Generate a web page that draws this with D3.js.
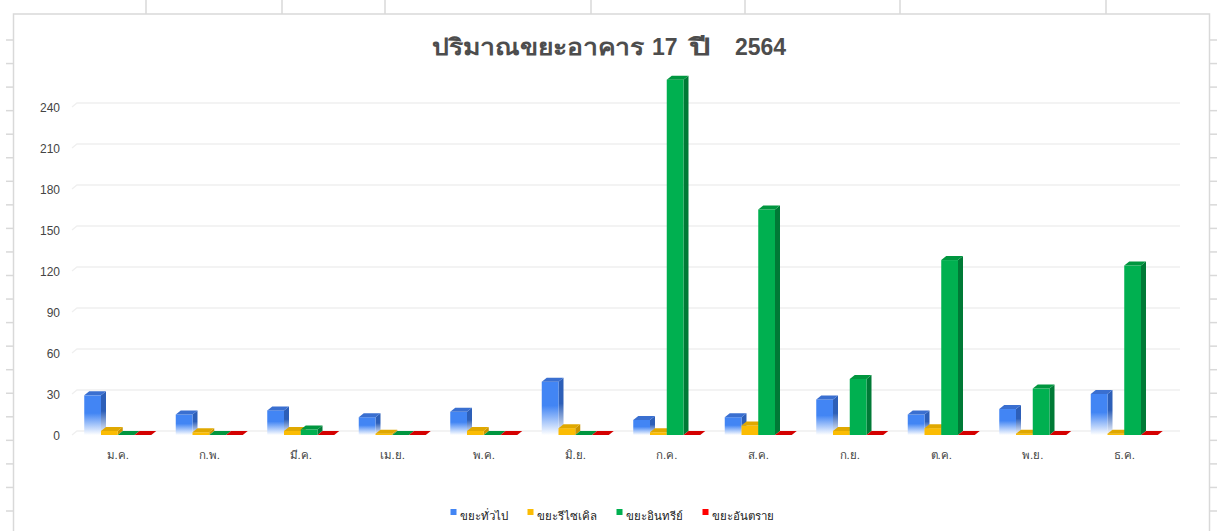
<!DOCTYPE html>
<html>
<head>
<meta charset="utf-8">
<script src="https://cdn.jsdelivr.net/npm/d3@7"></script>
<style>
  body { margin:0; background:#fff; }
  svg  { display:block; font-family: Arial, "Liberation Sans", sans-serif; }
</style>
</head>
<body>
<svg id="chart" width="1217" height="531"></svg>
<script>
//------------------------------------------------------------------------
// Chart data
const months   = ['ม.ค.','ก.พ.','มี.ค.','เม.ย.','พ.ค.','มิ.ย.','ก.ค.','ส.ค.','ก.ย.','ต.ค.','พ.ย.','ธ.ค.'];
const general  = [29, 15, 18, 13, 17, 39, 11, 13, 26, 15, 19, 30];
const recycle  = [3, 2, 3, 1, 3, 5, 2, 7, 3, 5, 1, 1];
const organic  = [0, 0, 4, 0, 0, 0, 260, 165, 41, 128, 34, 124];
const hazard   = [0, 0, 0, 0, 0, 0, 0, 0, 0, 0, 0, 0];
const seriesNames = ['ขยะทั่วไป','ขยะรีไซเคิล','ขยะอินทรีย์','ขยะอันตราย'];
const yTicks   = [0, 30, 60, 90, 120, 150, 180, 210, 240];
// Title pieces : text, left x, forced width (null = natural)
const titleParts = [['ปริมาณขยะอาคาร', 432, 212], ['17', 652, null], ['ปี', 689, 22], ['2564', 735, null]];

// Colours per series : front, side, top
const colors = [
    {front:'#4285f4', side:'#2d5fb8', top:'#3a6fd0'},
    {front:'#fbbc04', side:'#c99400', top:'#e0a800'},
    {front:'#00b050', side:'#007a36', top:'#00963f'},
    {front:'#ff0000', side:'#b00000', top:'#d40000'}
];
const seriesVals = [general, recycle, organic, hazard];

// 3D depth offset of the back plane
const depth = {dx:5, dy:-4};

const svg = d3.select('#chart');

//------------------------------------------------------------------------
// Spreadsheet background : frame, column and row separators
const gridCol = '#d9d9d9';
const colX = [146, 282, 385, 591, 745, 900, 1106];
const rowY = d3.range(40, 531, 23.55);

svg.append('g').selectAll('line').data(colX).enter().append('line')
   .attr('x1', d=>d).attr('x2', d=>d).attr('y1', 0).attr('y2', 14)
   .attr('stroke', gridCol).attr('stroke-width', 1.5);
svg.append('g').selectAll('line').data(rowY).enter().append('line')
   .attr('x1', 6).attr('x2', 14).attr('y1', d=>d).attr('y2', d=>d)
   .attr('stroke', gridCol).attr('stroke-width', 1.5);
svg.append('g').selectAll('line').data(rowY).enter().append('line')
   .attr('x1', 1209).attr('x2', 1217).attr('y1', d=>d).attr('y2', d=>d)
   .attr('stroke', gridCol).attr('stroke-width', 1.5);
svg.append('path')
   .attr('d', 'M13.5,531 V14 H1209.5 V531')
   .attr('fill', 'none').attr('stroke', gridCol).attr('stroke-width', 1.5);

//------------------------------------------------------------------------
// Scales
const xScale = d3.scaleBand().domain(months).range([72, 1170]);
const groupW = 67;
const xInner = d3.scaleBand().domain(d3.range(4)).range([0, groupW]);
const yScale = d3.scaleLinear().domain([0, 270]).range([431, 431 - 270 * 41 / 30]);

// Gridlines on the back plane with a short diagonal at the left
const grid = svg.append('g');
grid.selectAll('path').data(yTicks).enter().append('path')
    .attr('d', d => `M72,${yScale(d) - depth.dy} L77,${yScale(d)} H1180`)
    .attr('fill', 'none').attr('stroke', '#efefef').attr('stroke-width', 1.3);

// Y labels aligned with the front plane
svg.append('g').selectAll('text').data(yTicks).enter().append('text')
   .attr('x', 60).attr('y', d => yScale(d) - depth.dy + 4.5)
   .attr('text-anchor', 'end').attr('font-size', 12).attr('fill', '#444')
   .text(d => d);

//------------------------------------------------------------------------
// Gradient for the blue series (fades to white near the floor)
const defs = svg.append('defs');
[['gFront', colors[0].front], ['gSide', colors[0].side]].forEach(([id, c]) => {
    const g = defs.append('linearGradient').attr('id', id)
                  .attr('x1', 0).attr('x2', 0).attr('y1', 0).attr('y2', 1);
    g.append('stop').attr('offset', '45%').attr('stop-color', c);
    g.append('stop').attr('offset', '100%').attr('stop-color', '#fff');
});

//------------------------------------------------------------------------
// Bars, drawn left to right so each front hides the previous side
const bars = svg.append('g');
months.forEach((m, i) => {
    const gx = xScale(m) + (xScale.bandwidth() - groupW) / 2;
    seriesVals.forEach((vals, s) => {
        const v  = vals[i];
        const w  = xInner.bandwidth();
        const x  = gx + xInner(s);
        const yb = yScale(0) - depth.dy;        // front floor
        const yt = yScale(v) - depth.dy;        // front top
        const c  = colors[s];
        const dx = depth.dx, dy = depth.dy;
        const b  = bars.append('g');
        // side
        b.append('path')
         .attr('d', `M${x+w},${yt} L${x+w+dx},${yt+dy} L${x+w+dx},${yb+dy} L${x+w},${yb} Z`)
         .attr('fill', s === 0 ? 'url(#gSide)' : c.side);
        // front
        b.append('rect')
         .attr('x', x).attr('y', yt).attr('width', w).attr('height', Math.max(0, yb - yt))
         .attr('fill', s === 0 ? 'url(#gFront)' : c.front);
        // top
        b.append('path')
         .attr('d', `M${x},${yt} L${x+dx},${yt+dy} L${x+w+dx},${yt+dy} L${x+w},${yt} Z`)
         .attr('fill', c.top);
    });
});

// X labels
svg.append('g').selectAll('text').data(months).enter().append('text')
   .attr('x', d => xScale(d) + xScale.bandwidth() / 2)
   .attr('y', 459)
   .attr('text-anchor', 'middle').attr('font-size', 11.5).attr('fill', '#444')
   .text(d => d);

// Title, split so the Thai runs match the wider original face
const titleEl = svg.append('text')
   .attr('y', 55)
   .attr('font-size', 23).attr('font-weight', 'bold')
   .attr('fill', '#4d4d4d');
titleParts.forEach(([t, x, len]) => {
    const ts = titleEl.append('tspan').attr('x', x).text(t);
    if (len) ts.attr('textLength', len).attr('lengthAdjust', 'spacingAndGlyphs');
});

//------------------------------------------------------------------------
// Legend, centred under the chart
const legend = svg.append('g');
const items = legend.selectAll('g').data(seriesNames).enter().append('g');
items.append('rect')
     .attr('x', 0).attr('y', -7).attr('width', 6).attr('height', 6)
     .attr('fill', (d, i) => colors[i].front);
items.append('text')
     .attr('x', 9).attr('y', 4)
     .attr('font-size', 11.5).attr('fill', '#222')
     .text(d => d);

let cursor = 0;
items.each(function() {
    const tw = d3.select(this).select('text').node().getComputedTextLength();
    d3.select(this).attr('transform', `translate(${cursor},0)`);
    cursor += 9 + tw + 20;
});
const legendW = cursor - 20;
legend.attr('transform', `translate(${612 - legendW / 2},516)`);
</script>
</body>
</html>
